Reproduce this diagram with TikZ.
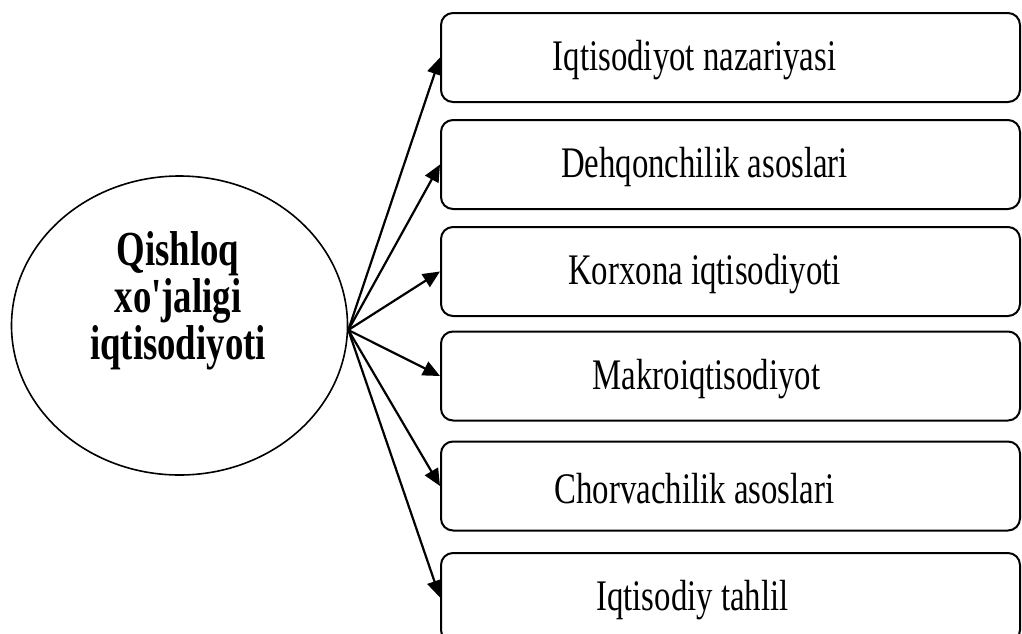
\documentclass[tikz,border=0pt]{standalone}
\usepackage{graphicx}
\usepackage{fontspec}
\setmainfont{Liberation Serif}
\usetikzlibrary{shapes.geometric,arrows.meta}
\newcommand{\stretchy}[1]{\scalebox{1}[1.33]{#1}}
\begin{document}
\begin{tikzpicture}[x=0.5pt,y=-0.5pt,
  fan/.style={-{Triangle[length=8.5pt,width=7.5pt]},line width=1.1pt},
  subj/.style={draw,rounded corners=6pt,line width=1pt,minimum width=289.5pt,minimum height=44.5pt,inner sep=0pt},
  subjtxt/.style={font=\fontsize{16.4}{19}\selectfont,inner sep=0pt,yshift=-1.5pt}]
\path[use as bounding box,clip] (0,0) rectangle (1022,633);
% the hub
\node[ellipse,draw,line width=0.8pt,minimum width=168pt,minimum height=149.5pt,inner sep=0pt] (q) at (179.5,325.5) {};
\node[inner sep=0pt,font=\bfseries\fontsize{18.4}{16.2}\selectfont] (qt) at (178,302)
  {\stretchy{\begin{tabular}{@{}c@{}}Qishloq\\xo\textquotesingle jaligi\\iqtisodiyoti\end{tabular}}};
% the subjects
\node[subj] (b1) at (730.5,57.5) {};
\node[subj] (b2) at (730.5,164.5) {};
\node[subj] (b3) at (730.5,271.5) {};
\node[subj] (b4) at (730.5,376) {};
\node[subj] (b5) at (730.5,486) {};
\node[subj] (b6) at (730.5,597.5) {};
\node[subjtxt] (t1) at ([xshift=-18pt]b1.center) {\stretchy{Iqtisodiyot nazariyasi}};
\node[subjtxt] (t2) at ([xshift=-13pt]b2.center) {\stretchy{Dehqonchilik asoslari}};
\node[subjtxt] (t3) at ([xshift=-13pt]b3.center) {\stretchy{Korxona iqtisodiyoti}};
\node[subjtxt] (t4) at ([xshift=-12pt]b4.center) {\stretchy{Makroiqtisodiyot}};
\node[subjtxt] (t5) at ([xshift=-18pt]b5.center) {\stretchy{Chorvachilik asoslari}};
\node[subjtxt] (t6) at ([xshift=-19pt]b6.center) {\stretchy{Iqtisodiy tahlil}};
\foreach \b in {b1,b2,b3,b4,b5,b6}
  \draw[fan] ([yshift=-2.25pt]q.east) -- (\b.west);
\end{tikzpicture}
\end{document}
